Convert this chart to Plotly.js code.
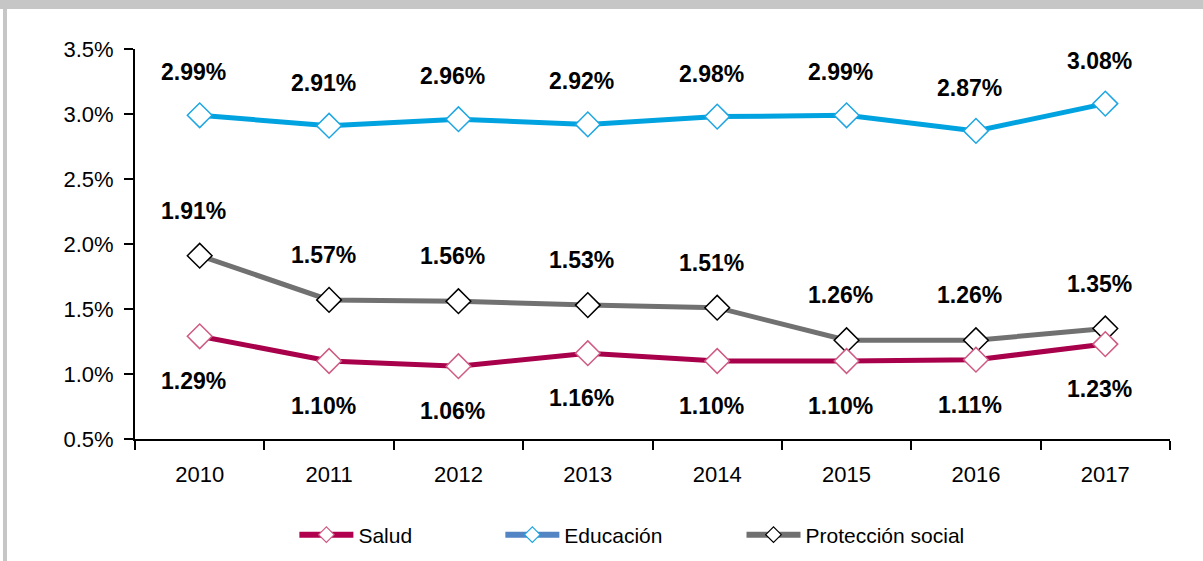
<!DOCTYPE html>
<html>
<head>
<meta charset="utf-8">
<script src="https://cdn.plot.ly/plotly-3.0.1.min.js"></script>
<style>
  html, body { margin: 0; padding: 0; background: #ffffff; }
  #wrap { position: relative; width: 1203px; height: 561px; overflow: hidden; }
  #chart { position: absolute; left: 0; top: 0; width: 1203px; height: 561px; }
  .frame { position: absolute; background: #c6c6c6; z-index: 5; }
</style>
</head>
<body>
<div id="wrap">
  <div id="chart"></div>
  <div class="frame" style="left:0;top:0;width:1203px;height:9px;"></div>
  <div class="frame" style="left:3px;top:0;width:4px;height:561px;"></div>
</div>
<script>
const years = ["2010", "2011", "2012", "2013", "2014", "2015", "2016", "2017"];
const salud = [1.29, 1.10, 1.06, 1.16, 1.10, 1.10, 1.11, 1.23];
const educacion = [2.99, 2.91, 2.96, 2.92, 2.98, 2.99, 2.87, 3.08];
const proteccion = [1.91, 1.57, 1.56, 1.53, 1.51, 1.26, 1.26, 1.35];
const seriesNames = ["Salud", "Educación", "Protección social"];
const yTicks = [0.5, 1.0, 1.5, 2.0, 2.5, 3.0, 3.5];

const FONT = "Liberation Sans, Arial, Helvetica, sans-serif";

const styles = [
  { line: "#a8004b", mk: "#cf5a83", legLine: "#b0004e", legMk: "#cf5a83" },
  { line: "#00a3e0", mk: "#1ea6e2", legLine: "#5384c4", legMk: "#1ea6e2" },
  { line: "#717171", mk: "#000000", legLine: "#707070", legMk: "#000000" }
];
const dataSets = [salud, educacion, proteccion];

const traces = [];
[1, 2, 0].forEach(i => {
  traces.push({
    type: "scatter", mode: "lines+markers",
    x: years, y: dataSets[i], name: seriesNames[i],
    showlegend: false, hoverinfo: "skip",
    line: { color: styles[i].line, width: 5 },
    marker: { symbol: "diamond", size: 19, color: "#ffffff",
              line: { color: styles[i].mk, width: 1.5 } },
    cliponaxis: false
  });
});
const legendIds = ["legend", "legend2", "legend3"];
seriesNames.forEach((n, i) => {
  traces.push({
    type: "scatter", mode: "lines+markers",
    x: [null], y: [null], name: n, legend: legendIds[i],
    showlegend: true, hoverinfo: "skip",
    line: { color: styles[i].legLine, width: 6 },
    marker: { symbol: "diamond", size: 12, color: "#ffffff",
              line: { color: styles[i].legMk, width: 1.2 } }
  });
});

const annotations = [];
function addLabels(vals, shift) {
  vals.forEach((v, k) => {
    annotations.push({
      x: k, y: v, xref: "x", yref: "y",
      text: "<b>" + v.toFixed(2) + "%</b>", showarrow: false,
      xshift: -6, yshift: shift,
      font: { family: FONT, size: 23, color: "#000000" }
    });
  });
}
addLabels(educacion, 43);
addLabels(proteccion, 45);
addLabels(salud, -45);

function legendCfg(x) {
  return {
    orientation: "h", x: x, xanchor: "left",
    yref: "container", y: 0.0463, yanchor: "middle",
    itemwidth: 54,
    font: { family: FONT, size: 21, color: "#000000" },
    bgcolor: "rgba(0,0,0,0)", borderwidth: 0
  };
}

const layout = {
  width: 1203, height: 561,
  margin: { l: 135, r: 33, t: 49, b: 122, autoexpand: false },
  paper_bgcolor: "#ffffff", plot_bgcolor: "#ffffff",
  font: { family: FONT, size: 22, color: "#000000" },
  xaxis: {
    type: "category", range: [-0.5, 7.5], tickson: "boundaries",
    showgrid: false, zeroline: false, automargin: false,
    showline: true, linecolor: "#000000", linewidth: 2,
    ticks: "outside", ticklen: 9, tickwidth: 2, tickcolor: "#000000",
    ticklabelstandoff: 15,
    tickfont: { family: FONT, size: 22, color: "#000000" }
  },
  yaxis: {
    range: [0.5, 3.5], tickvals: yTicks, automargin: false,
    ticktext: yTicks.map(v => v.toFixed(1) + "%"),
    showgrid: false, zeroline: false,
    showline: true, linecolor: "#000000", linewidth: 2,
    ticks: "outside", ticklen: 9, tickwidth: 2, tickcolor: "#000000",
    ticklabelstandoff: 6,
    tickfont: { family: FONT, size: 22, color: "#000000" }
  },
  annotations: annotations,
  showlegend: true,
  legend: legendCfg(0.154),
  legend2: legendCfg(0.353),
  legend3: legendCfg(0.586)
};

Plotly.newPlot("chart", traces, layout, { staticPlot: true, displayModeBar: false });
</script>
</body>
</html>
